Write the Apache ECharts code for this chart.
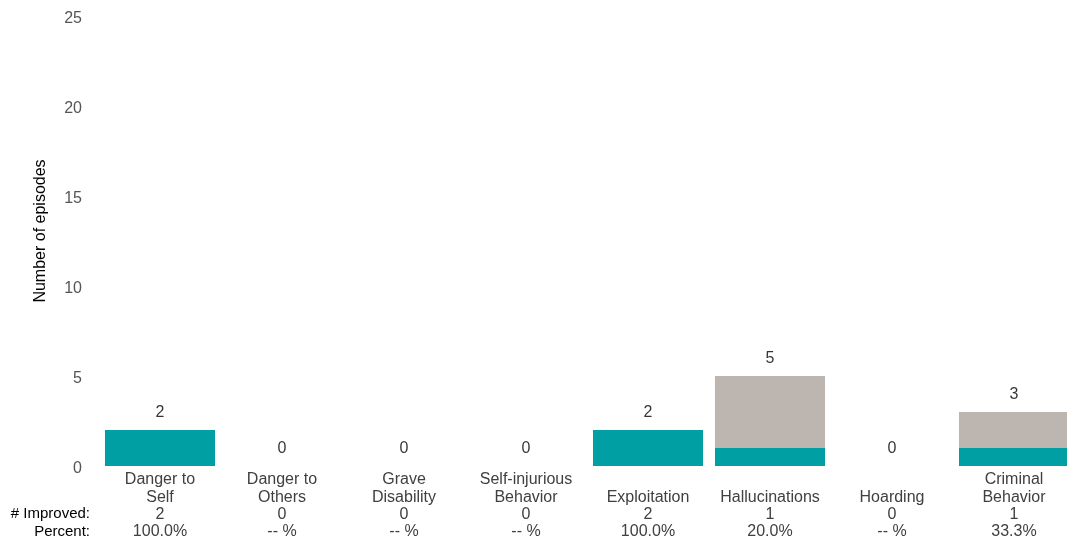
<!DOCTYPE html>
<html><head><meta charset="utf-8">
<script src="https://cdn.jsdelivr.net/npm/echarts@6/dist/echarts.min.js"></script>
<style>html,body{margin:0;padding:0;background:#fff}#c{width:1067px;height:544px}</style>
</head><body><div id="c"></div>
<script>
const categories = ["Danger to\nSelf", "Danger to\nOthers", "Grave\nDisability", "Self-injurious\nBehavior", "\nExploitation", "\nHallucinations", "\nHoarding", "Criminal\nBehavior"];
const improved = [2, 0, 0, 0, 2, 1, 0, 1];
const totals = [2, 0, 0, 0, 2, 5, 0, 3];
const percents = ["100.0%", "-- %", "-- %", "-- %", "100.0%", "20.0%", "-- %", "33.3%"];
const yTicks = [0, 5, 10, 15, 20, 25];

const notImproved = totals.map((t, i) => t - improved[i]);
const labelMap = {};
categories.forEach((c, i) => { labelMap[c] = c + "\n" + improved[i] + "\n" + percents[i]; });
const FF = 'Liberation Sans, Arial, sans-serif';

const chart = echarts.init(document.getElementById('c'));
chart.setOption({
  animation: false,
  textStyle: { fontFamily: FF },
  grid: { left: 99, width: 976, top: 16, bottom: 78, outerBoundsMode: 'none', containLabel: false },
  xAxis: {
    type: 'category', data: categories,
    axisLine: { show: false }, axisTick: { show: false },
    axisLabel: { interval: 0, margin: 5, fontSize: 16, lineHeight: 17.4, color: '#404040',
      formatter: v => labelMap[v] }
  },
  yAxis: {
    type: 'value', min: yTicks[0], max: yTicks[yTicks.length - 1], interval: 5,
    axisLine: { show: false }, axisTick: { show: false }, splitLine: { show: false },
    axisLabel: { fontSize: 16, color: '#555', margin: 17, verticalAlign: 'top', lineHeight: 6 }
  },
  series: [
    { type: 'bar', stack: 's', data: improved, barCategoryGap: '9.8%',
      itemStyle: { color: '#009FA3' } },
    { type: 'bar', stack: 's', data: notImproved,
      itemStyle: { color: '#BDB5AF' } },
    { type: 'scatter', data: totals, symbolSize: 0.01, z: 5,
      label: { show: true, position: 'top', distance: 9, fontSize: 16, color: '#000',
        formatter: p => String(totals[p.dataIndex]) } }
  ],
  graphic: [
    { type: 'text', x: 41, y: 231, rotation: Math.PI / 2,
      style: { text: 'Number of episodes', fontSize: 16, fill: '#000', align: 'center', verticalAlign: 'middle', fontFamily: FF } },
    { type: 'text', x: 90, y: 514, style: { text: '# Improved:', fontSize: 15, fill: '#000', align: 'right', verticalAlign: 'middle', fontFamily: FF } },
    { type: 'text', x: 90, y: 532, style: { text: 'Percent:', fontSize: 15, fill: '#000', align: 'right', verticalAlign: 'middle', fontFamily: FF } }
  ]
});
</script></body></html>
